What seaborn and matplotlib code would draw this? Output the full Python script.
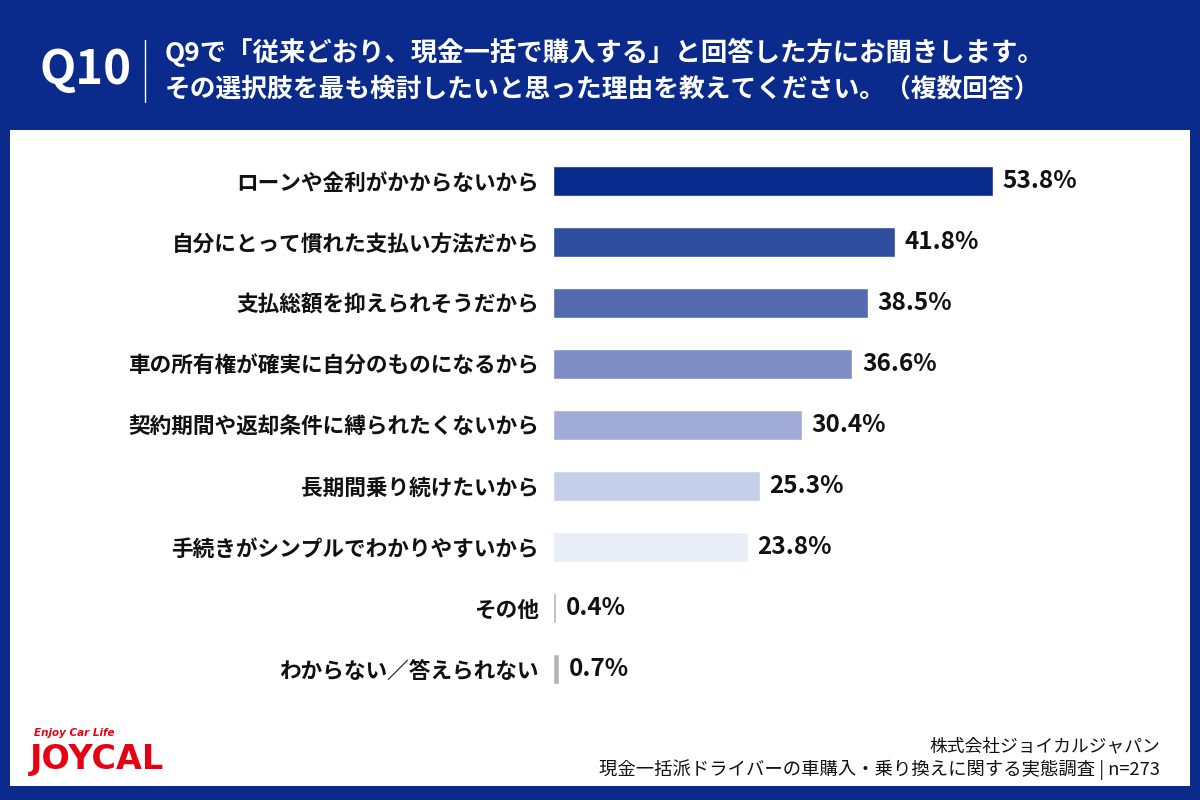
import matplotlib
matplotlib.use('Agg')
import matplotlib.pyplot as plt
import seaborn as sns
import pandas as pd
from matplotlib.patches import Rectangle

# データ
categories = ['ローンや金利がかからないから', '自分にとって慣れた支払い方法だから',
              '支払総額を抑えられそうだから', '車の所有権が確実に自分のものになるから',
              '契約期間や返却条件に縛られたくないから', '長期間乗り続けたいから',
              '手続きがシンプルでわかりやすいから', 'その他', 'わからない／答えられない']
values = [53.8, 41.8, 38.5, 36.6, 30.4, 25.3, 23.8, 0.4, 0.7]
bar_colors = ['#062b8c', '#2f4ea0', '#5369b0', '#7e8ec4', '#a1acd6', '#c6cfea', '#e8edf8',
              '#b4b4b4', '#b4b4b4']

title_q = 'Q10'
title_lines = ['Q9で「従来どおり、現金一括で購入する」と回答した方にお聞きします。',
               'その選択肢を最も検討したいと思った理由を教えてください。（複数回答）']
footer_lines = ['株式会社ジョイカルジャパン',
                '現金一括派ドライバーの車購入・乗り換えに関する実態調査 | n=273']

df = pd.DataFrame({'reason': categories, 'pct': values})

sns.set_theme(style='white')
plt.rcParams['font.family'] = ['Noto Sans CJK JP', 'DejaVu Sans']

navy = '#0b2b8c'
fig = plt.figure(figsize=(12, 8), dpi=100, facecolor=navy)

# 白いパネル
fig.patches.append(Rectangle((10 / 1200, 14 / 800), 1180 / 1200, 656 / 800,
                             transform=fig.transFigure, facecolor='white',
                             edgecolor='none', zorder=-1))

# 棒グラフ
ax = fig.add_axes([553 / 1200, 1 - 699.5 / 800, 597 / 1200, 549 / 800])
ax.set_zorder(2)
ax.set_facecolor('none')
sns.barplot(data=df, x='pct', y='reason', hue='reason', palette=bar_colors,
            saturation=1, legend=False, width=0.5, orient='h', ax=ax)
ax.set_xlim(0, 597 / 8.18)
ax.set_ylim(8.5, -0.5)
ax.set_xlabel('')
ax.set_ylabel('')
ax.set_xticks([])
sns.despine(ax=ax, left=True, bottom=True)
ax.tick_params(axis='y', length=0, pad=10)
for lbl in ax.get_yticklabels():
    lbl.set_fontsize(15.6)
    lbl.set_fontweight('bold')
    lbl.set_color('#111111')

for i, v in enumerate(values):
    ax.annotate(f'{v}%', xy=(v, i), xytext=(7, 0), textcoords='offset points',
                ha='left', va='center', fontsize=17.5, fontweight='bold', color='#111111')

# ヘッダー
fig.text(40 / 1200, 1 - 70 / 800, title_q, color='white', fontsize=34, fontweight='bold',
         ha='left', va='center')
fig.add_artist(plt.Line2D([145 / 1200, 145 / 1200], [1 - 40 / 800, 1 - 102 / 800],
                          color='white', lw=1))
fig.text(165 / 1200, 1 - 52 / 800, title_lines[0], color='white', fontsize=19,
         fontweight='bold', ha='left', va='center')
fig.text(165 / 1200, 1 - 89 / 800, title_lines[1], color='white', fontsize=18.5,
         fontweight='bold', ha='left', va='center')

# フッター
fig.text(1160 / 1200, 1 - 746 / 800, footer_lines[0], color='#111111', fontsize=12.8,
         ha='right', va='center')
fig.text(1160 / 1200, 1 - 770 / 800, footer_lines[1], color='#111111', fontsize=13.2,
         ha='right', va='center')

# ロゴ
fig.text(34 / 1200, 1 - 733 / 800, 'Enjoy Car Life', color='#e60012', fontsize=7.5,
         fontweight='bold', style='italic', ha='left', va='center', family='DejaVu Sans')
fig.text(30 / 1200, 1 - 760 / 800, 'JOYCAL', color='#e60012', fontsize=24,
         fontweight='heavy', ha='left', va='center', family='DejaVu Sans')

fig.savefig('out.png', dpi=100, facecolor=navy)
